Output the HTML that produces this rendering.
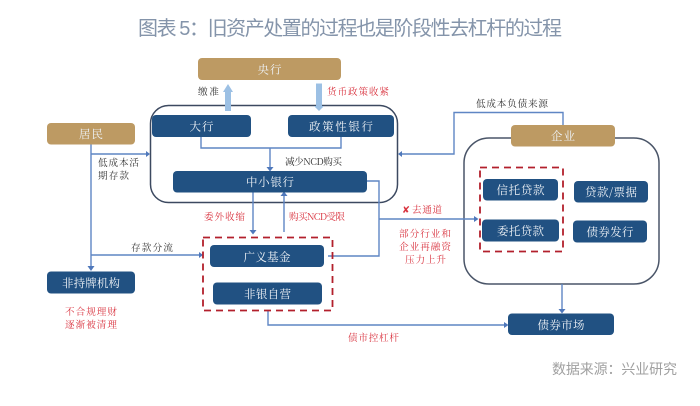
<!DOCTYPE html>
<html lang="zh"><head><meta charset="utf-8"><style>
html,body{margin:0;padding:0;background:#fff;width:700px;height:406px;overflow:hidden}
svg{display:block;filter:blur(.35px)}
.t{font-family:"Liberation Sans","Noto Sans CJK SC",sans-serif}
.s{font-family:"Noto Serif CJK SC",serif}
.b{font-size:11.5px;fill:#eef2f6;text-anchor:middle;dominant-baseline:central}
.l{font-size:9.6px;fill:#333;dominant-baseline:central}
.r{font-size:9.6px;fill:#d9333f;dominant-baseline:central}
.c{fill:none;stroke:#5f86c4;stroke-width:1.4}
.a{fill:#4f78bb}
</style></head><body>
<svg width="700" height="406" viewBox="0 0 700 406" xmlns="http://www.w3.org/2000/svg">
<text class="t" x="138" y="35" font-size="20" fill="#8494aa" textLength="424" lengthAdjust="spacing">图表 5：旧资产处置的过程也是阶段性去杠杆的过程</text>

<rect x="150.500" y="105.500" width="247" height="97" rx="18" fill="none" stroke="#3c4960" stroke-width="1.5"/>
<rect x="464" y="138" width="195" height="146" rx="25" fill="none" stroke="#4a5568" stroke-width="1.5"/>

<!-- connectors -->
<path class="c" d="M91 144V268M91 154H147M91 255H200"/>
<path class="a" d="M87.500 266h7l-3.500 5zM146 151l4 3-4 3zM199 252l4 3-4 3z"/>
<path class="c" d="M201 137V148H341V137M270 148V168"/>
<path class="a" d="M266.500 167h7l-3.500 4.500z"/>
<path class="c" d="M253 192V231M284 232V195"/>
<path class="a" d="M249.500 230h7l-3.500 4.500zM280.500 196h7l-3.500-4.500z"/>
<path class="c" d="M563 125V112.500H454V154H401"/>
<path class="a" d="M402 151l-4 3 4 3z"/>
<path class="c" d="M367 181H379V256H328M379 219H475"/>
<path class="a" d="M474 216l4.500 3-4.500 3z"/>
<path class="c" d="M562 284V310"/>
<path class="a" d="M558.500 309h7l-3.500 4.500z"/>
<path class="c" d="M268 310V325H505"/>
<path class="a" d="M504 322l4.500 3-4.500 3z"/>

<!-- thick arrows -->
<path d="M225 111V92H223L228 84 233 92H231V111z" fill="#9cc0e4"/>
<path d="M316 83.500H322V106H324L319 111 314 106H316z" fill="#9cc0e4"/>

<!-- dashed -->
<rect x="480" y="167.500" width="83" height="84" fill="none" stroke="#b3202c" stroke-width="1.8" stroke-dasharray="7 5"/>
<rect x="203" y="237.500" width="129.500" height="73" fill="none" stroke="#b3202c" stroke-width="1.8" stroke-dasharray="7 5"/>

<!-- tan boxes -->
<g fill="#bd9a63">
<rect x="198" y="58" width="143" height="22" rx="4"/>
<rect x="47" y="123" width="88" height="21.500" rx="4"/>
<rect x="511" y="125" width="104" height="21.500" rx="4"/>
</g>
<!-- blue boxes -->
<g fill="#215182">
<rect x="152" y="115" width="99" height="22" rx="4"/>
<rect x="288" y="115" width="106" height="22" rx="4"/>
<rect x="173" y="171" width="194" height="21.500" rx="4"/>
<rect x="483" y="179" width="75" height="21.500" rx="4"/>
<rect x="482" y="219.500" width="77" height="22" rx="4"/>
<rect x="574" y="181" width="74" height="21.500" rx="4"/>
<rect x="573" y="220.500" width="74" height="22" rx="4"/>
<rect x="508" y="313.500" width="106" height="21.500" rx="4"/>
<rect x="47" y="271.500" width="88" height="22" rx="4"/>
<rect x="210" y="245" width="114" height="22" rx="4"/>
<rect x="213" y="282.500" width="109" height="22" rx="4"/>
</g>

<g class="s">
<text class="b" x="269.500" y="69.500" textLength="24">央行</text>
<text class="b" x="91" y="134" textLength="24">居民</text>
<text class="b" x="563" y="136" textLength="24">企业</text>
<text class="b" x="201.500" y="126.500" textLength="24">大行</text>
<text class="b" x="341" y="126.500" textLength="64">政策性银行</text>
<text class="b" x="270" y="182" textLength="48">中小银行</text>
<text class="b" x="520.500" y="190" textLength="48">信托贷款</text>
<text class="b" x="520.500" y="231" textLength="47">委托贷款</text>
<text class="b" x="611" y="192" textLength="52">贷款/票据</text>
<text class="b" x="610" y="232" textLength="47">债券发行</text>
<text class="b" x="561" y="325" textLength="47">债券市场</text>
<text class="b" x="91" y="283" textLength="58">非持牌机构</text>
<text class="b" x="267" y="257" textLength="47">广义基金</text>
<text class="b" x="267.500" y="294" textLength="47">非银自营</text>

<text class="l" x="198" y="91" textLength="21">缴准</text>
<text class="r" x="327" y="91" textLength="62">货币政策收紧</text>
<text class="l" x="285" y="161" textLength="57">减少NCD购买</text>
<text class="l" x="98" y="162" textLength="41">低成本活</text>
<text class="l" x="98" y="175" textLength="31">期存款</text>
<text class="l" x="476" y="103" textLength="72">低成本负债来源</text>
<text class="r" x="204" y="216" textLength="41">委外收缩</text>
<text class="r" x="289" y="216" textLength="56">购买NCD受限</text>
<text class="l" x="131" y="247" textLength="42">存款分流</text>
<text class="r" x="65" y="311" textLength="52">不合规理财</text>
<text class="r" x="65" y="324" textLength="52">逐渐被清理</text>
<text class="r" x="348" y="337" textLength="51">债市控杠杆</text>
<text class="r" x="402" y="209" font-size="11" fill="#c8102e">✘</text>
<text class="r" x="412" y="209" textLength="30">去通道</text>
<text class="r" x="399" y="233" textLength="52">部分行业和</text>
<text class="r" x="399" y="246" textLength="52">企业再融资</text>
<text class="r" x="405" y="259" textLength="41">压力上升</text>
</g>
<text class="t" x="552" y="374" font-size="14" fill="#a0a0a0" textLength="125">数据来源：兴业研究</text>
</svg>
</body></html>
